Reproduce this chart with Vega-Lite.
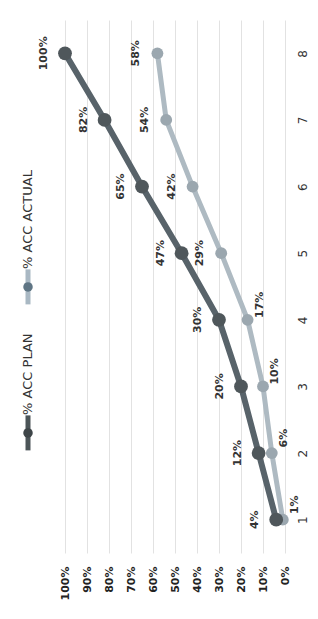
{
  "$schema": "https://vega.github.io/schema/vega-lite/v6.json",
  "background": "white",
  "padding": {"left": 5, "top": 20, "right": 0, "bottom": 0},
  "spacing": 14,
  "bounds": "flush",
  "config": {"view": {"stroke": null}, "font": "DejaVu Sans"},
  "datasets": {
    "d": [
      {"cat": 1, "series": "% ACC PLAN", "value": 0.04},
      {"cat": 2, "series": "% ACC PLAN", "value": 0.12},
      {"cat": 3, "series": "% ACC PLAN", "value": 0.20},
      {"cat": 4, "series": "% ACC PLAN", "value": 0.30},
      {"cat": 5, "series": "% ACC PLAN", "value": 0.47},
      {"cat": 6, "series": "% ACC PLAN", "value": 0.65},
      {"cat": 7, "series": "% ACC PLAN", "value": 0.82},
      {"cat": 8, "series": "% ACC PLAN", "value": 1.00},
      {"cat": 1, "series": "% ACC ACTUAL", "value": 0.01},
      {"cat": 2, "series": "% ACC ACTUAL", "value": 0.06},
      {"cat": 3, "series": "% ACC ACTUAL", "value": 0.10},
      {"cat": 4, "series": "% ACC ACTUAL", "value": 0.17},
      {"cat": 5, "series": "% ACC ACTUAL", "value": 0.29},
      {"cat": 6, "series": "% ACC ACTUAL", "value": 0.42},
      {"cat": 7, "series": "% ACC ACTUAL", "value": 0.54},
      {"cat": 8, "series": "% ACC ACTUAL", "value": 0.58}
    ],
    "legend": [
      {"series": "% ACC ACTUAL"},
      {"series": "% ACC PLAN"}
    ]
  },
  "hconcat": [
    {
      "width": 46,
      "height": 438,
      "data": {"name": "legend"},
      "encoding": {
        "y": {
          "field": "series",
          "type": "nominal",
          "scale": {"type": "point", "domain": ["% ACC ACTUAL", "% ACC PLAN"], "padding": 1, "align": 0.914},
          "axis": null
        }
      },
      "layer": [
        {
          "mark": {"type": "point", "shape": "M0,-1L0,1", "filled": false, "strokeWidth": 5, "size": 1225, "opacity": 1},
          "encoding": {
            "stroke": {
              "field": "series",
              "type": "nominal",
              "scale": {"domain": ["% ACC PLAN", "% ACC ACTUAL"], "range": ["#4c5558", "#a9b8c3"]},
              "legend": null
            }
          }
        },
        {
          "mark": {"type": "circle", "size": 90, "opacity": 1},
          "encoding": {
            "fill": {
              "field": "series",
              "type": "nominal",
              "scale": {"domain": ["% ACC PLAN", "% ACC ACTUAL"], "range": ["#3e4548", "#5f7584"]},
              "legend": null
            }
          }
        },
        {
          "mark": {"type": "text", "angle": 270, "align": "left", "baseline": "middle", "dx": 18, "fontSize": 13, "color": "#333333"},
          "encoding": {"text": {"field": "series"}}
        }
      ]
    },
    {
      "width": 220,
      "height": 533,
      "data": {"name": "d"},
      "encoding": {
        "x": {
          "field": "value",
          "type": "quantitative",
          "scale": {"domain": [0, 1], "reverse": true},
          "axis": {
            "values": [0, 0.1, 0.2, 0.3, 0.4, 0.5, 0.6, 0.7, 0.8, 0.9, 1],
            "format": ".0%",
            "labelAngle": 270,
            "ticks": false,
            "domain": false,
            "grid": true,
            "gridColor": "#e2e2e2",
            "labelPadding": 13,
            "labelFontWeight": "bold",
            "labelFontSize": 11,
            "labelColor": "#222222",
            "title": null
          }
        },
        "y": {
          "field": "cat",
          "type": "ordinal",
          "sort": "descending",
          "axis": {
            "orient": "right",
            "labelAngle": 270,
            "ticks": false,
            "domain": false,
            "grid": false,
            "title": null,
            "labelFontSize": 12,
            "labelPadding": 12,
            "labelColor": "#333333"
          }
        }
      },
      "layer": [
        {
          "transform": [{"filter": "datum.series == '% ACC ACTUAL'"}],
          "mark": {"type": "line", "strokeWidth": 5, "color": "#aebac2"}
        },
        {
          "transform": [{"filter": "datum.series == '% ACC ACTUAL'"}],
          "mark": {"type": "circle", "size": 140, "opacity": 1, "color": "#9ba7af"}
        },
        {
          "transform": [{"filter": "datum.series == '% ACC PLAN'"}],
          "mark": {"type": "line", "strokeWidth": 6, "color": "#58636a"}
        },
        {
          "transform": [{"filter": "datum.series == '% ACC PLAN'"}],
          "mark": {"type": "circle", "size": 190, "opacity": 1, "color": "#4f575b"}
        },
        {
          "transform": [{"filter": "datum.series == '% ACC PLAN' || datum.cat >= 5"}],
          "mark": {"type": "text", "angle": 270, "align": "center", "baseline": "middle", "dy": -21, "fontSize": 11, "fontWeight": "bold", "color": "#333333"},
          "encoding": {"text": {"field": "value", "type": "quantitative", "format": ".0%"}}
        },
        {
          "transform": [{"filter": "datum.series == '% ACC ACTUAL' && datum.cat < 5"}],
          "mark": {"type": "text", "angle": 270, "align": "center", "baseline": "middle", "dx": 15, "dy": 12, "fontSize": 11, "fontWeight": "bold", "color": "#333333"},
          "encoding": {"text": {"field": "value", "type": "quantitative", "format": ".0%"}}
        }
      ]
    }
  ]
}
